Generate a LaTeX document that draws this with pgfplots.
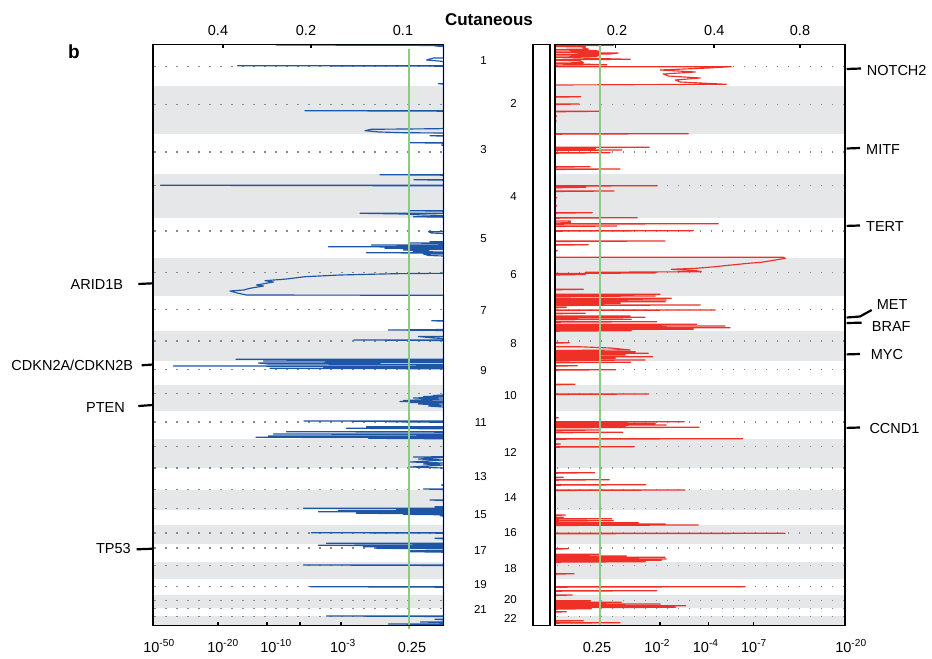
\documentclass[border=0pt]{standalone}
\usepackage{pgfplots}
\pgfplotsset{compat=1.18}
\usepackage{fontspec}
\setmainfont{Liberation Sans}
\definecolor{gband}{HTML}{E6E7E8}
\definecolor{bl}{HTML}{1F55A5}
\definecolor{rd}{HTML}{EE3027}
\definecolor{gr}{HTML}{8ECB82}
\definecolor{dotc}{HTML}{8A8A8A}
\newcommand\tkf{\fontsize{14.5bp}{16bp}\selectfont}
\newcommand\chf{\fontsize{11.5bp}{12bp}\selectfont}
\newcommand\bands{%
\fill[gband] (axis cs:0,86) rectangle (axis cs:291,134);
\fill[gband] (axis cs:0,174) rectangle (axis cs:291,218);
\fill[gband] (axis cs:0,258) rectangle (axis cs:291,296);
\fill[gband] (axis cs:0,331) rectangle (axis cs:291,361);
\fill[gband] (axis cs:0,385) rectangle (axis cs:291,411);
\fill[gband] (axis cs:0,439) rectangle (axis cs:291,468);
\fill[gband] (axis cs:0,490) rectangle (axis cs:291,510);
\fill[gband] (axis cs:0,525) rectangle (axis cs:291,544);
\fill[gband] (axis cs:0,562) rectangle (axis cs:291,579);
\fill[gband] (axis cs:0,595) rectangle (axis cs:291,608);
\fill[gband] (axis cs:0,616) rectangle (axis cs:291,625.5);
}
\newcommand\cenline[1]{\draw[dotc, line width=1.1bp, dash pattern=on 1.1bp off 9.9bp] (axis cs:289,#1) -- (axis cs:0,#1);}
\newcommand\cendots{%
\cenline{66.5}\cenline{104.5}\cenline{152}\cenline{185.7}\cenline{231}\cenline{272.5}
\cenline{309.5}\cenline{341}\cenline{369.3}\cenline{393.7}\cenline{422}\cenline{446.5}
\cenline{468}\cenline{489.7}\cenline{508.8}\cenline{533}\cenline{548}\cenline{565.3}
\cenline{586.7}\cenline{600.3}\cenline{608.5}\cenline{616.3}
}
\begin{document}
\begin{tikzpicture}
\useasboundingbox (0,0) rectangle (932bp,659bp);
% ---------------- left panel (deletions) ----------------
\begin{axis}[at={(153.2bp,33.5bp)}, anchor=south west, scale only axis,
  width=290.3bp, height=581bp, xmin=0, xmax=290.3, ymin=44.5, ymax=625.5,
  x dir=reverse, y dir=reverse, xtick=\empty, ytick=\empty, clip=false,
  axis on top, axis line style={line width=1.8bp}]
\bands
\cendots
\addplot[bl, line width=1.15bp, line join=round, mark=none] coordinates {
(0,44.8) (167,45) (0,45.5)
(0,46) (8.5,46) (0,46.5)
(0,58) (10,58) (17,60) (5,61) (0,61.5)
(0,65.7) (206,65.7) (0,66.2)
(0,83.7) (5,83.7) (0,84.2)
(0,110.7) (138.5,110.7) (0,111.2)
(0,128.5) (5,128.7) (72.5,129.3) (78.5,130.7) (64,132) (40,132.7) (0,133)
(0,135.7) (13.5,135.7) (0,136.2)
(0,142.7) (34,142.7) (0,143.2)
(0,145) (2,145) (0,145.5)
(0,174.7) (63.5,174.7) (0,175.2)
(0,179.7) (29.5,179.7) (0,180.2)
(0,185.3) (283,185.3) (0,185.8)
(0,210.7) (33.5,210.7) (0,211.2)
(0,213.3) (83.5,213.3) (40,214) (20,215) (0,215.5)
(0,216.7) (30,216.7) (0,217.2)
(0,231.5) (15,231.7) (12,233) (0,233.5)
(0,241.7) (13.5,241.7) (0,242.2)
(0,243) (34,243) (0,243.5)
(0,245) (72,245) (0,245.5)
(0,246.7) (115,246.7) (0,247.2)
(0,248.3) (58.5,248.3) (0,248.8)
(0,249.5) (40,250) (15,251) (30,251.5) (0,252)
(0,252.7) (77,252.7) (0,253.2)
(0,254) (20,254) (15,255.5) (0,256)
(0,273.3) (48.5,273.7) (103.5,275) (138.5,276.7) (157,279) (178.5,280.7) (170,282) (187,285) (180,286) (193.5,288.3) (200,290) (213.5,291) (205,293.3) (197,295) (0,295.3)
(0,320.7) (11.8,320.7) (0,321.2)
(0,329.5) (55,330) (0,330.5)
(0,336.5) (25,336.5) (10,338) (0,338.5)
(0,340) (89.5,340) (0,340.5)
(0,359.3) (207.5,359.3) (0,359.8)
(0,361) (180,361) (0,361.5)
(0,362.5) (185,363) (175,364) (0,364.5)
(0,366) (270,366) (0,366.5)
(0,366.8) (120,366.8) (0,367.3)
(0,368.3) (173.5,368.3) (0,368.8)
(0,395) (10,395.5) (0,396) (20,396.5) (0,397) (30,398) (0,399) (40,400.5) (0,401) (43.5,401.5) (0,402) (35,402.5) (0,403) (25,404) (0,405) (15,406) (0,407)
(0,421) (139.5,421) (0,421.5)
(0,421.8) (55,421.8) (0,422.3)
(0,426.7) (77,426.7) (0,427.2)
(0,428.3) (97,428.3) (0,428.8)
(0,431.7) (157,431.7) (0,432.2)
(0,434) (170,434) (0,434.5)
(0,436) (175,436) (0,436.5)
(0,437.3) (187.5,437.3) (0,437.8)
(0,438.3) (75,438.3) (0,438.8)
(0,456.7) (30,457) (0,457.5) (25,459) (0,460) (33,462) (0,463) (20,464) (0,465) (33,467) (0,468)
(0,485) (2,485) (0,485.5)
(0,489) (20,489) (0,489.5)
(0,500) (13.5,500) (0,500.5)
(0,506.7) (8.5,506.7) (0,507.2)
(0,508.3) (140,508.3) (0,508.8)
(0,509.3) (47,509.3) (0,509.8)
(0,510.7) (105,510.7) (0,511.2)
(0,511.7) (125,511.7) (0,512.2)
(0,513.3) (87,513.3) (0,513.8)
(0,514.3) (40,514.3) (0,514.8)
(0,515.7) (3,515.7) (0,516.2)
(0,532.7) (132,532.7) (0,533.2)
(0,538.3) (8.5,538.3) (0,538.8)
(0,543.3) (117,543.3) (0,543.8)
(0,545.3) (125,545.3) (0,545.8)
(0,546.7) (80,546.7) (0,547.2)
(0,548.3) (67,548.3) (0,548.8)
(0,550.7) (33,550.7) (0,551.2)
(0,551.7) (33,551.7) (0,552.2)
(0,565) (140,565) (0,565.5)
(0,586.7) (133,586.7) (0,587.2)
(0,616) (117,616) (0,616.5)
(0,619.3) (8.5,619.3) (0,619.8)
(0,622) (23,622) (0,622.5)
(0,624) (55,624) (0,624.5)
(0,625.2)
};
\draw[gr, line width=2bp] (axis cs:34.8,49) -- (axis cs:34.8,629);
% ticks
\draw[line width=1.4bp] (axis cs:225.5,625.5) -- (axis cs:225.5,622);
\draw[line width=1.4bp] (axis cs:176.5,625.5) -- (axis cs:176.5,622);
\draw[line width=1.4bp] (axis cs:143.5,625.5) -- (axis cs:143.5,622);
\draw[line width=1.4bp] (axis cs:102.5,625.5) -- (axis cs:102.5,622);
\draw[line width=1.4bp] (axis cs:220.5,44.5) -- (axis cs:220.5,48);
\draw[line width=1.4bp] (axis cs:132.5,44.5) -- (axis cs:132.5,48);
% tick labels
\node[anchor=base, inner sep=0, font=\tkf] at (axis cs:284.5,652) {10\textsuperscript{-50}};
\node[anchor=base, inner sep=0, font=\tkf] at (axis cs:220.5,652) {10\textsuperscript{-20}};
\node[anchor=base, inner sep=0, font=\tkf] at (axis cs:167.5,652) {10\textsuperscript{-10}};
\node[anchor=base, inner sep=0, font=\tkf] at (axis cs:100.5,652) {10\textsuperscript{-3}};
\node[anchor=base, inner sep=0, font=\tkf] at (axis cs:31.5,652) {0.25};
\node[anchor=base, inner sep=0, font=\tkf] at (axis cs:225.5,36) {0.4};
\node[anchor=base, inner sep=0, font=\tkf] at (axis cs:137.5,36) {0.2};
\node[anchor=base, inner sep=0, font=\tkf] at (axis cs:40.5,36) {0.1};
% gene labels
\draw[line width=2.2bp] (axis cs:305.2,284) -- (axis cs:290.5,283.3);
\node[anchor=east, inner sep=0, font=\tkf] at (axis cs:320.2,285) {ARID1B};
\draw[line width=2.2bp] (axis cs:301.8,365.3) -- (axis cs:290.5,364.5);
\node[anchor=east, inner sep=0, font=\tkf] at (axis cs:310.2,365.5) {CDKN2A/CDKN2B};
\draw[line width=2.2bp] (axis cs:305.2,406) -- (axis cs:290.5,405);
\node[anchor=east, inner sep=0, font=\tkf] at (axis cs:318.5,407.7) {PTEN};
\draw[line width=2.2bp] (axis cs:306.8,549.3) -- (axis cs:290.5,548.7);
\node[anchor=east, inner sep=0, font=\tkf] at (axis cs:312.5,548.8) {TP53};
\node[inner sep=0, font=\fontsize{19bp}{20bp}\selectfont\bfseries] at (axis cs:369.5,52) {b};
\end{axis}
% ---------------- right panel (amplifications) ----------------
\begin{axis}[at={(555.3bp,33.5bp)}, anchor=south west, scale only axis,
  width=290bp, height=581bp, xmin=0, xmax=290, ymin=44.5, ymax=625.5,
  y dir=reverse, xtick=\empty, ytick=\empty, clip=false,
  axis on top, axis line style={line width=1.8bp}]
\bands
\cendots
\addplot[rd, line width=1.15bp, line join=round, mark=none] coordinates {
(0,45) (58,45.3) (0,45.8)
(0,46.5) (30,47) (28,48) (33,49) (0,49.5)
(0,50) (40,50.5) (45,51.5) (0,52)
(0,52.5) (63,53) (55,54) (0,54.5)
(0,55) (45,55.5) (40,56.5) (0,57)
(0,57.5) (75,59.3) (0,59.8)
(0,60.3) (25,61) (28,62.7) (0,63)
(0,63.5) (51.5,64.7) (0,65.2)
(0,66.7) (176,66.7) (153,68) (105,70) (140,72) (108,74) (113,76) (145,78) (120,80) (125,82) (145,83) (171,84.3) (0,85)
(0,96.7) (25.4,96.7) (0,97.2)
(0,104) (23.7,104) (0,104.5)
(0,111.3) (44,111.3) (0,111.8)
(0,116) (1.5,116) (0,116.5)
(0,121) (1,121) (0,121.5)
(0,133.7) (133,133.7) (0,134.2)
(0,147.3) (94,147.3) (0,147.8)
(0,148.5) (40,148.5) (0,149)
(0,150) (66.4,150) (0,150.5)
(0,152.7) (54.7,152.7) (0,153.2)
(0,166.7) (34.7,166.7) (0,167.2)
(0,169) (64.7,169) (0,169.5)
(0,185.7) (102,185.7) (0,186.2)
(0,187.3) (30.4,187.3) (0,187.8)
(0,191) (58.7,191) (0,191.5)
(0,197.7) (1.5,197.7) (0,198.2)
(0,205.7) (1.5,205.7) (0,206.2)
(0,212.7) (37,212.7) (0,213.2)
(0,217.7) (82,217.7) (0,218.2)
(0,221) (15,221) (15,222.5) (0,223)
(0,223.7) (163,223.7) (0,224.2)
(0,226) (61.4,226) (0,226.5)
(0,230.7) (138,230.7) (0,231.2)
(0,241) (109.7,241) (0,241.5)
(0,244.7) (33,244.7) (0,245.2)
(0,250.7) (2,250.7) (0,251.2)
(0,257.3) (228,257.3) (230,258.3) (216,260.7) (206,262.3) (193,263.3) (176,265) (160,266.7) (141,268.3) (116,269.3) (141,270.7) (146,271.7) (30,272.3) (100,273) (0,273.5)
(0,274.5) (30,274.5) (0,275)
(0,289.3) (28,289.3) (0,289.8)
(0,294.3) (104.7,294.3) (0,294.8)
(0,296) (100,296) (0,296.5)
(0,298.3) (116,298.3) (0,298.8)
(0,300) (111,300) (0,300.5)
(0,301.7) (110,301.7) (0,302.2)
(0,303.3) (65,303.3) (0,303.8)
(0,305) (145,305) (0,305.5)
(0,307.3) (11,307.3) (0,307.8)
(0,310) (160,310) (0,310.5)
(0,313.3) (30,313.3) (0,313.8)
(0,316) (74.7,316) (0,316.5)
(0,317.3) (89.7,317.3) (0,317.8)
(0,319.3) (76,319.3) (0,319.8)
(0,321.7) (101.4,321.7) (0,322.2)
(0,324.3) (141.4,324.3) (0,324.8)
(0,326) (169.7,326) (0,326.5)
(0,327.7) (174.7,327.7) (0,328.2)
(0,329.3) (138,329.3) (0,329.8)
(0,330.7) (76,330.7) (0,331.2)
(0,342.7) (14,342.7) (0,343.2)
(0,346.7) (23,346.7) (55,348) (75,350) (0,350.5)
(0,351.7) (80,351.7) (0,352.2)
(0,353.3) (93,353.3) (0,353.8)
(0,355) (70,355) (0,355.5)
(0,356.7) (97.4,356.7) (0,357.2)
(0,358.3) (60,358.3) (0,358.8)
(0,360) (89.7,360) (0,360.5)
(0,362.3) (75.4,362.3) (0,362.8)
(0,365.7) (22,365.7) (0,366.2)
(0,369.7) (60.4,369.7) (0,370.2)
(0,384.3) (19.7,384.3) (0,384.8)
(0,394) (93.4,394) (0,394.5)
(0,417.7) (3,417.7) (0,418.2)
(0,421.7) (129,421.7) (0,422.2)
(0,423.5) (100,423.5) (0,424)
(0,425) (111,425) (0,425.5)
(0,426.5) (70,426.5) (0,427)
(0,427.3) (143.7,427.3) (0,427.8)
(0,430) (45,430) (0,430.5)
(0,432.3) (67.4,432.3) (0,432.8)
(0,438.7) (187.4,438.7) (0,439.2)
(0,444) (5,444) (0,444.5)
(0,446.7) (78.7,446.7) (0,447.2)
(0,472.7) (39.4,472.7) (0,473.2)
(0,477.3) (8,477.3) (0,477.8)
(0,479.7) (54,479.7) (0,480.2)
(0,484.7) (90.4,484.7) (0,485.2)
(0,490) (129.7,490) (0,490.5)
(0,515) (10,515) (0,515.5)
(0,517.3) (8,517.3) (0,517.8)
(0,518.7) (56.4,518.7) (0,519.2)
(0,520.7) (58,520.7) (0,521.2)
(0,522.7) (83,522.7) (0,523.2)
(0,524) (110,524) (0,524.5)
(0,525) (143,525) (0,525.5)
(0,533.3) (229.7,533.3) (0,533.8)
(0,548.7) (13,548.7) (0,549.2)
(0,554.3) (45,554.3) (0,554.8)
(0,556) (71,556) (0,556.5)
(0,557.3) (109.7,557.3) (0,557.8)
(0,559) (111,559) (0,559.5)
(0,560.3) (106,560.3) (0,560.8)
(0,561.7) (90,561.7) (0,562.2)
(0,573.7) (18.7,573.7) (0,574.2)
(0,586.7) (189.7,586.7) (0,587.2)
(0,590.7) (101.4,590.7) (0,591.2)
(0,595) (17,595) (0,595.5)
(0,600.7) (35,600.7) (0,601.2)
(0,602.3) (66,602.3) (0,602.8)
(0,604) (105,604) (0,604.5)
(0,605.7) (130.4,605.7) (0,606.2)
(0,607.3) (120,607.3) (0,607.8)
(0,608.7) (36,608.7) (0,609.2)
(0,611.7) (11,611.7) (0,612.2)
(0,620.7) (28,620.7) (0,621.2)
(0,622.7) (64.7,622.7) (0,623.2)
(0,625.3)
};
\draw[gr, line width=2bp] (axis cs:44.4,45) -- (axis cs:44.4,625.5);
% ticks
\draw[line width=1.4bp] (axis cs:104.7,625.5) -- (axis cs:104.7,622);
\draw[line width=1.4bp] (axis cs:153,625.5) -- (axis cs:153,622);
\draw[line width=1.4bp] (axis cs:198,625.5) -- (axis cs:198,622);
\draw[line width=1.4bp] (axis cs:60.4,44.5) -- (axis cs:60.4,48);
\draw[line width=1.4bp] (axis cs:158.7,44.5) -- (axis cs:158.7,48);
\draw[line width=1.4bp] (axis cs:244.7,44.5) -- (axis cs:244.7,48);
% tick labels
\node[anchor=base, inner sep=0, font=\tkf] at (axis cs:41.7,652) {0.25};
\node[anchor=base, inner sep=0, font=\tkf] at (axis cs:102,652) {10\textsuperscript{-2}};
\node[anchor=base, inner sep=0, font=\tkf] at (axis cs:150.4,652) {10\textsuperscript{-4}};
\node[anchor=base, inner sep=0, font=\tkf] at (axis cs:198.7,652) {10\textsuperscript{-7}};
\node[anchor=base, inner sep=0, font=\tkf] at (axis cs:295.7,652) {10\textsuperscript{-20}};
\node[anchor=base, inner sep=0, font=\tkf] at (axis cs:61.7,36) {0.2};
\node[anchor=base, inner sep=0, font=\tkf] at (axis cs:159,36) {0.4};
\node[anchor=base, inner sep=0, font=\tkf] at (axis cs:244.7,36) {0.8};
% chromosome box
\draw[line width=1.8bp] (axis cs:-22.6,44.5) rectangle (axis cs:-5.3,625.5);
% chromosome labels
\node[anchor=east, inner sep=0, font=\chf] at (axis cs:-68.3,61) {1};
\node[anchor=east, inner sep=0, font=\chf] at (axis cs:-38.3,103) {2};
\node[anchor=east, inner sep=0, font=\chf] at (axis cs:-68.3,150) {3};
\node[anchor=east, inner sep=0, font=\chf] at (axis cs:-38.3,196.7) {4};
\node[anchor=east, inner sep=0, font=\chf] at (axis cs:-68.3,238.7) {5};
\node[anchor=east, inner sep=0, font=\chf] at (axis cs:-38.3,275) {6};
\node[anchor=east, inner sep=0, font=\chf] at (axis cs:-68.3,310.7) {7};
\node[anchor=east, inner sep=0, font=\chf] at (axis cs:-38.3,344) {8};
\node[anchor=east, inner sep=0, font=\chf] at (axis cs:-68.3,371) {9};
\node[anchor=east, inner sep=0, font=\chf] at (axis cs:-38.3,395.7) {10};
\node[anchor=east, inner sep=0, font=\chf] at (axis cs:-68.3,422.7) {11};
\node[anchor=east, inner sep=0, font=\chf] at (axis cs:-38.3,452) {12};
\node[anchor=east, inner sep=0, font=\chf] at (axis cs:-68.3,476.7) {13};
\node[anchor=east, inner sep=0, font=\chf] at (axis cs:-38.3,497.7) {14};
\node[anchor=east, inner sep=0, font=\chf] at (axis cs:-68.3,515) {15};
\node[anchor=east, inner sep=0, font=\chf] at (axis cs:-38.3,532.7) {16};
\node[anchor=east, inner sep=0, font=\chf] at (axis cs:-68.3,551) {17};
\node[anchor=east, inner sep=0, font=\chf] at (axis cs:-38.3,568.7) {18};
\node[anchor=east, inner sep=0, font=\chf] at (axis cs:-68.3,585) {19};
\node[anchor=east, inner sep=0, font=\chf] at (axis cs:-38.3,599.3) {20};
\node[anchor=east, inner sep=0, font=\chf] at (axis cs:-68.3,609.3) {21};
\node[anchor=east, inner sep=0, font=\chf] at (axis cs:-38.3,618.7) {22};
% title
\node[inner sep=0, font=\fontsize{17bp}{18bp}\selectfont\bfseries] at (axis cs:-66.3,19.7) {Cutaneous};
% gene labels
\draw[line width=2.2bp] (axis cs:291.4,69) -- (axis cs:305.7,68.5);
\node[anchor=west, inner sep=0, font=\tkf] at (axis cs:311.4,70.2) {NOTCH2};
\draw[line width=2.2bp] (axis cs:291.4,148.5) -- (axis cs:304.7,148);
\node[anchor=west, inner sep=0, font=\tkf] at (axis cs:310.7,150) {MITF};
\draw[line width=2.2bp] (axis cs:291.4,225.9) -- (axis cs:304.7,225.5);
\node[anchor=west, inner sep=0, font=\tkf] at (axis cs:310.7,226.5) {TERT};
\draw[line width=2.2bp] (axis cs:291.4,317.5) -- (axis cs:304.7,316.5) -- (axis cs:316.4,310);
\node[anchor=west, inner sep=0, font=\tkf] at (axis cs:321.4,305) {MET};
\draw[line width=2.2bp] (axis cs:291.4,323) -- (axis cs:306.4,322.7);
\node[anchor=west, inner sep=0, font=\tkf] at (axis cs:316.4,326.5) {BRAF};
\draw[line width=2.2bp] (axis cs:291.4,354.4) -- (axis cs:304.7,354);
\node[anchor=west, inner sep=0, font=\tkf] at (axis cs:315.4,354.2) {MYC};
\draw[line width=2.2bp] (axis cs:291.4,427.9) -- (axis cs:304.7,427.5);
\node[anchor=west, inner sep=0, font=\tkf] at (axis cs:314,428.2) {CCND1};
\end{axis}
\end{tikzpicture}
\end{document}
